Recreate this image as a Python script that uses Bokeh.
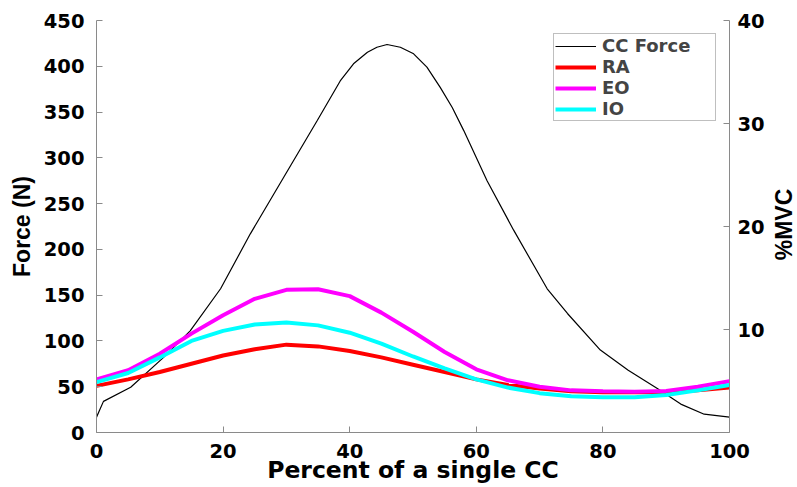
import math
from bokeh.plotting import figure
from bokeh.layouts import row
from bokeh.models import Range1d, LinearAxis, FixedTicker, Legend, LegendItem, Label
from bokeh.embed import file_html
from bokeh.resources import INLINE

# CC force (N) on the left axis
cc_x = [0, 1.1, 5.4, 10.6, 14.8, 19.6, 24.3, 29.6, 34.9, 38.5, 40.6, 42.8, 44.3, 45.9,
        48.0, 50.1, 52.2, 54.3, 56.2, 58, 61.7, 65.9, 71.2, 74.4, 79.6, 84, 88.6, 92.3, 96, 100]
cc_force = [16.7, 34, 49.5, 82, 111, 157, 217, 279, 341, 384, 402.7, 415.4, 420.8, 423.8,
            420.8, 413.6, 399, 377, 355, 330, 275, 221, 157, 130, 90, 68, 48, 31, 20, 16.7]

# EMG (%MVC) on the right axis
pct = [0, 5, 10, 15, 20, 25, 30, 35, 40, 45, 50, 55, 60, 65, 70, 75, 80, 85, 90, 95, 100]
ra = [4.53, 5.16, 5.87, 6.67, 7.47, 8.09, 8.53, 8.36, 7.91, 7.29, 6.58, 5.87, 5.16,
      4.62, 4.27, 4.0, 3.91, 3.91, 3.91, 4.09, 4.36]
eo = [5.16, 6.04, 7.64, 9.6, 11.38, 12.98, 13.85, 13.9, 13.24, 11.64, 9.78, 7.82,
      6.13, 5.07, 4.44, 4.09, 4.0, 3.96, 4.04, 4.44, 4.98]
io = [4.89, 5.78, 7.29, 8.89, 9.87, 10.49, 10.69, 10.4, 9.69, 8.62, 7.38, 6.22,
      5.16, 4.36, 3.82, 3.51, 3.42, 3.42, 3.64, 4.09, 4.62]

x_ticks = [0, 20, 40, 60, 80, 100]
left_ticks = [0, 50, 100, 150, 200, 250, 300, 350, 400, 450]
right_ticks = [10, 20, 30, 40]

TICK_FONT = "DejaVu Sans"
VLABEL_FONT = "Liberation Sans"
AXIS_COLOR = "#8a8a8a"

p = figure(width=769, height=487, output_backend="svg", toolbar_location=None,
           x_range=Range1d(0, 100), y_range=Range1d(0, 450))
p.min_border_left = 96
p.min_border_right = 40
p.min_border_top = 20
p.min_border_bottom = 55
p.outline_line_color = None
p.grid.visible = False
p.extra_y_ranges = {"mvc": Range1d(0, 40)}

def style_axis(ax, label, label_font, label_size, label_standoff, tick_standoff):
    ax.axis_label = label
    ax.axis_label_text_font = label_font
    ax.axis_label_text_font_style = "bold"
    ax.axis_label_text_font_size = label_size
    ax.axis_label_text_color = "black"
    ax.major_label_text_font = TICK_FONT
    ax.major_label_text_font_style = "bold"
    ax.major_label_text_font_size = "19.5px"
    ax.major_label_text_color = "black"
    ax.axis_line_color = AXIS_COLOR
    ax.major_tick_line_color = AXIS_COLOR
    ax.major_tick_in = 6
    ax.major_tick_out = 0
    ax.minor_tick_line_color = None
    ax.major_label_standoff = tick_standoff
    ax.axis_label_standoff = label_standoff

style_axis(p.xaxis[0], "Percent of a single CC", TICK_FONT, "23.5px", -5, 11)
p.xaxis[0].ticker = FixedTicker(ticks=x_ticks)
style_axis(p.yaxis[0], "Force (N)", VLABEL_FONT, "23px", 6, 12)
p.yaxis[0].ticker = FixedTicker(ticks=left_ticks)

raxis = LinearAxis(y_range_name="mvc")
style_axis(raxis, None, VLABEL_FONT, "23px", 0, 8)
raxis.ticker = FixedTicker(ticks=right_ticks)
p.add_layout(raxis, "right")

r_cc = p.line(cc_x, cc_force, line_color="black", line_width=1.2)
r_ra = p.line(pct, ra, line_color="#ff0000", line_width=4, y_range_name="mvc")
r_eo = p.line(pct, eo, line_color="#ff00ff", line_width=4, y_range_name="mvc")
r_io = p.line(pct, io, line_color="#00ffff", line_width=4, y_range_name="mvc")

legend = Legend(items=[LegendItem(label="CC Force", renderers=[r_cc]),
                       LegendItem(label="RA", renderers=[r_ra]),
                       LegendItem(label="EO", renderers=[r_eo]),
                       LegendItem(label="IO", renderers=[r_io])],
                location="top_right", margin=13, padding=1, spacing=0,
                glyph_width=41, glyph_height=20, label_height=20, label_width=112,
                label_standoff=6,
                label_text_font=TICK_FONT, label_text_font_style="bold",
                label_text_font_size="18px",
                border_line_color="#808080", border_line_width=1,
                background_fill_color="white", background_fill_alpha=1)
p.add_layout(legend)

# narrow strip holding the right-axis title, reading bottom-to-top
p2 = figure(width=28, height=487, output_backend="svg", toolbar_location=None,
            x_axis_type=None, y_axis_type=None,
            x_range=Range1d(0, 1), y_range=Range1d(0, 1))
p2.min_border_left = 0
p2.min_border_right = 0
p2.min_border_top = 0
p2.min_border_bottom = 0
p2.outline_line_color = None
p2.grid.visible = False
p2.add_layout(Label(text="%MVC", x=14.5, y=208, x_units="screen", y_units="screen",
                    angle=math.pi / 2, angle_units="rad",
                    text_align="center", text_baseline="middle",
                    text_font=VLABEL_FONT, text_font_style="bold",
                    text_font_size="23px", text_color="black"))

layout = row(p, p2)
open("out.html", "w").write(file_html(layout, INLINE))
